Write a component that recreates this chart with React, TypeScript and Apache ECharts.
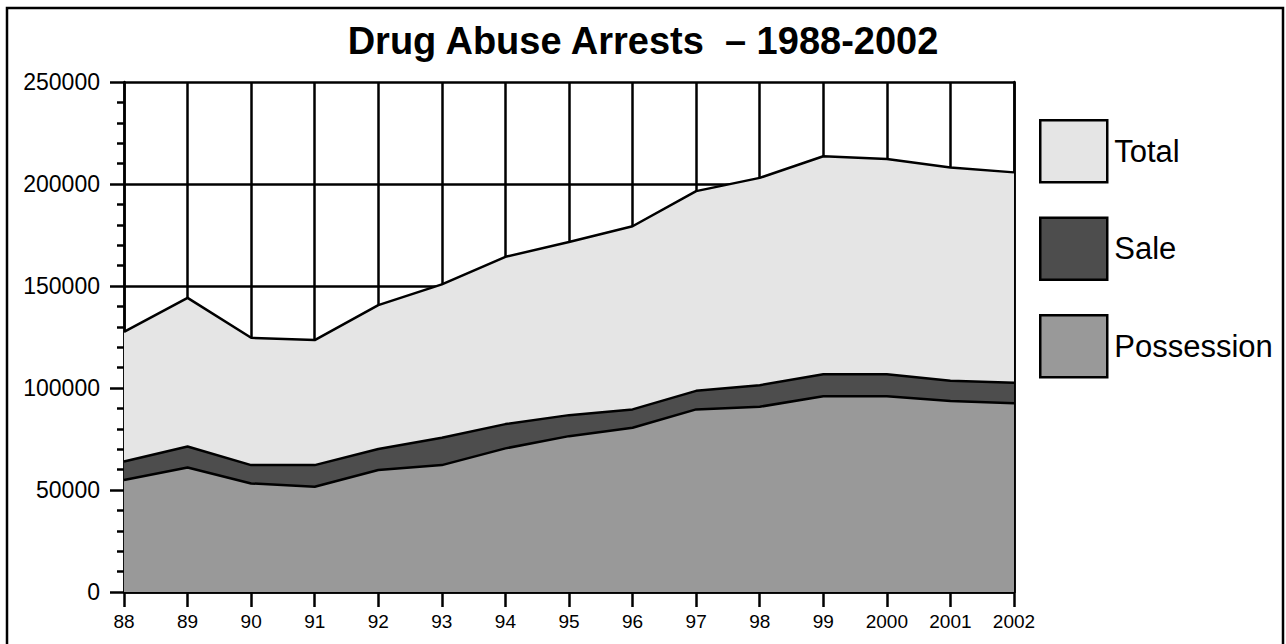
import React, { useEffect, useRef } from "react";
import * as echarts from "echarts";

const years = ["88", "89", "90", "91", "92", "93", "94", "95", "96", "97", "98", "99", "2000", "2001", "2002"];
const totalArrests = [127500, 144200, 124600, 123500, 140600, 150800, 164300, 171600, 179300, 196500, 203000, 213600, 212200, 208100, 205700];
const possession = [54900, 61000, 53200, 51600, 59800, 62200, 70400, 76400, 80500, 89500, 90800, 96000, 96000, 93600, 92500];
const sale = [9100, 10300, 9000, 10600, 10300, 13400, 11900, 10300, 9000, 9100, 10600, 10700, 10700, 9900, 10100];
const legendNames = ["Total", "Sale", "Possession"];
const colors = { Total: "#e5e5e5", Sale: "#4d4d4d", Possession: "#999999" };
const titleText = "Drug Abuse Arrests  \u2013 1988-2002";

const FONT = "'Liberation Sans', Arial, Helvetica, sans-serif";

export default function App() {
  const ref = useRef<HTMLDivElement>(null);
  useEffect(() => {
    if (!ref.current) return;
    const chart = echarts.init(ref.current, null, { renderer: "svg" });
    const line = { color: "#000", width: 2.5 };
    const lw = 2.5;
    chart.setOption({
      animation: false,
      backgroundColor: "#fff",
      textStyle: { fontFamily: FONT, color: "#000" },
      title: {
        text: titleText,
        left: "center",
        top: 22,
        padding: 0,
        textStyle: { fontSize: 38, fontWeight: "bold", color: "#000", fontFamily: FONT },
      },
      legend: {
        orient: "vertical",
        left: 1039,
        top: 119,
        padding: 0,
        itemWidth: 67,
        itemHeight: 62,
        itemGap: 33,
        icon: "rect",
        textStyle: { fontSize: 31, color: "#000", fontFamily: FONT, padding: [0, 0, 0, 2] },
        data: legendNames.map((n) => ({
          name: n,
          itemStyle: { color: (colors as any)[n], borderColor: "#000", borderWidth: 2.5 },
        })),
      },
      graphic: [
        {
          type: "rect",
          silent: true,
          shape: { x: 7, y: 8, width: 1276, height: 700 },
          style: { fill: "none", stroke: "#000", lineWidth: 2.5 },
        },
      ],
      grid: { left: 124, right: 272, top: 82, bottom: 52 },
      xAxis: {
        type: "category",
        data: years,
        boundaryGap: false,
        axisLine: { lineStyle: { color: "#000", width: lw } },
        axisTick: { length: 15, lineStyle: { color: "#000", width: lw } },
        axisLabel: { fontSize: 19, color: "#000", margin: 20, fontFamily: FONT },
        splitLine: { show: true, lineStyle: { color: "#000", width: lw } },
      },
      yAxis: [
        {
          type: "value",
          min: 0,
          max: 250000,
          interval: 50000,
          axisLine: { show: true, lineStyle: { color: "#000", width: lw } },
          axisTick: { show: true, length: 14, lineStyle: { color: "#000", width: lw } },
          minorTick: { show: true, splitNumber: 5, length: 7, lineStyle: { color: "#000", width: lw } },
          axisLabel: {
            fontSize: 23,
            color: "#000",
            margin: 24,
            fontFamily: FONT,
            formatter: (v: number) => String(v),
          },
          splitLine: { show: true, lineStyle: { color: "#000", width: lw } },
        },
        {
          type: "value",
          position: "right",
          min: 0,
          max: 250000,
          interval: 50000,
          axisLine: { show: true, onZero: false, lineStyle: { color: "#000", width: lw } },
          axisTick: { show: false },
          axisLabel: { show: false },
          splitLine: { show: false },
        },
      ],
      series: [
        {
          name: "Total",
          type: "line",
          data: totalArrests,
          symbol: "none",
          lineStyle: line,
          itemStyle: { color: colors.Total },
          areaStyle: { color: colors.Total, opacity: 1 },
          z: 2,
        },
        {
          name: "Possession",
          type: "line",
          stack: "arrests",
          data: possession,
          symbol: "none",
          lineStyle: line,
          itemStyle: { color: colors.Possession },
          areaStyle: { color: colors.Possession, opacity: 1 },
          z: 4,
        },
        {
          name: "Sale",
          type: "line",
          stack: "arrests",
          data: sale,
          symbol: "none",
          lineStyle: line,
          itemStyle: { color: colors.Sale },
          areaStyle: { color: colors.Sale, opacity: 1 },
          z: 3,
        },
      ],
    });
    return () => chart.dispose();
  }, []);
  return (
    <div
      ref={ref}
      style={{ position: "fixed", left: 0, top: 0, width: 1286, height: 644, background: "#fff" }}
    />
  );
}
